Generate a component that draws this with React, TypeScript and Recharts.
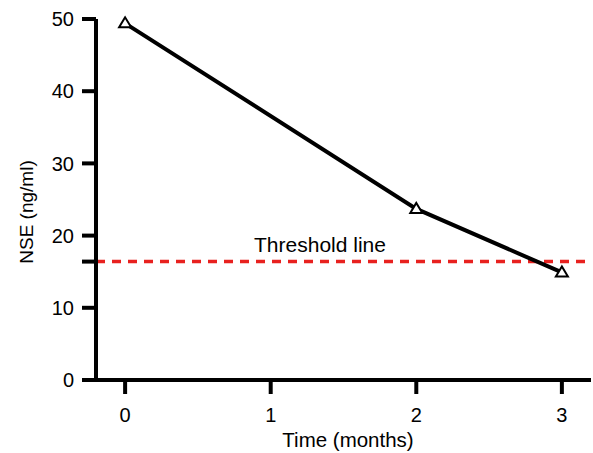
import React from "react";
import { Line, LineChart, ReferenceLine, XAxis, YAxis, Label } from "recharts";

const months = [0, 2, 3];
const nseValues = [49.4, 23.7, 14.9];
const thresholdValue = 16.4;
const xTicks = [0, 1, 2, 3];
const yTicks = [0, 10, thresholdValue, 20, 30, 40, 50];

const FONT = '"Liberation Sans", Arial, Helvetica, sans-serif';

const data = months.map((m, i) => ({ month: m, nse: nseValues[i] }));

function TriangleDot(props: { cx?: number; cy?: number; index?: number }) {
  const { cx, cy, index } = props;
  if (cx == null || cy == null) return null;
  const pts = `${cx},${cy - 6} ${cx - 6},${cy + 4} ${cx + 6},${cy + 4}`;
  return <polygon key={index} points={pts} fill="#fff" stroke="#000" strokeWidth={2} strokeLinejoin="miter" />;
}

export default function App() {
  return (
    <div style={{ width: 593, height: 453, background: "#fff", fontFamily: FONT }}>
      <style>{"body{margin:0;background:#fff}"}</style>
      <LineChart width={593} height={453} data={data} margin={{ top: 19, right: 2, left: 0, bottom: 0 }}>
        <XAxis
          dataKey="month"
          type="number"
          domain={[-0.2, 3.2]}
          ticks={xTicks}
          height={73}
          tickSize={14}
          tickMargin={14}
          axisLine={{ stroke: "#000", strokeWidth: 4 }}
          tickLine={{ stroke: "#000", strokeWidth: 4 }}
          tick={{ fill: "#000", fontSize: 20, fontFamily: FONT }}
        >
          <Label
            content={() => (
              <text x={348} y={447} textAnchor="middle" fontSize={20.5} fontFamily={FONT} fill="#000">
                Time (months)
              </text>
            )}
          />
        </XAxis>
        <YAxis
          type="number"
          domain={[0, 50]}
          ticks={yTicks}
          width={96}
          tickSize={14}
          tickMargin={8}
          interval={0}
          tickFormatter={(v: number) => (v % 10 === 0 ? String(v) : "")}
          axisLine={{ stroke: "#000", strokeWidth: 4 }}
          tickLine={{ stroke: "#000", strokeWidth: 4 }}
          tick={{ fill: "#000", fontSize: 20, fontFamily: FONT }}
        >
          <Label
            content={() => (
              <text
                x={0}
                y={0}
                transform="translate(33 212) rotate(-90)"
                textAnchor="middle"
                fontSize={19}
                fontFamily={FONT}
                fill="#000"
              >
                NSE (ng/ml)
              </text>
            )}
          />
        </YAxis>
        <ReferenceLine
          y={thresholdValue}
          stroke="#e8211f"
          strokeWidth={3.5}
          strokeDasharray="9 7"
          label={(p: { viewBox?: { x: number; y: number } }) => (
            <text
              x={320}
              y={(p.viewBox?.y ?? 262) - 10}
              textAnchor="middle"
              fontSize={21}
              fontFamily={FONT}
              fill="#000"
            >
              Threshold line
            </text>
          )}
        />
        <Line
          dataKey="nse"
          stroke="#000"
          strokeWidth={4}
          dot={<TriangleDot />}
          activeDot={false}
          isAnimationActive={false}
        />
      </LineChart>
    </div>
  );
}
